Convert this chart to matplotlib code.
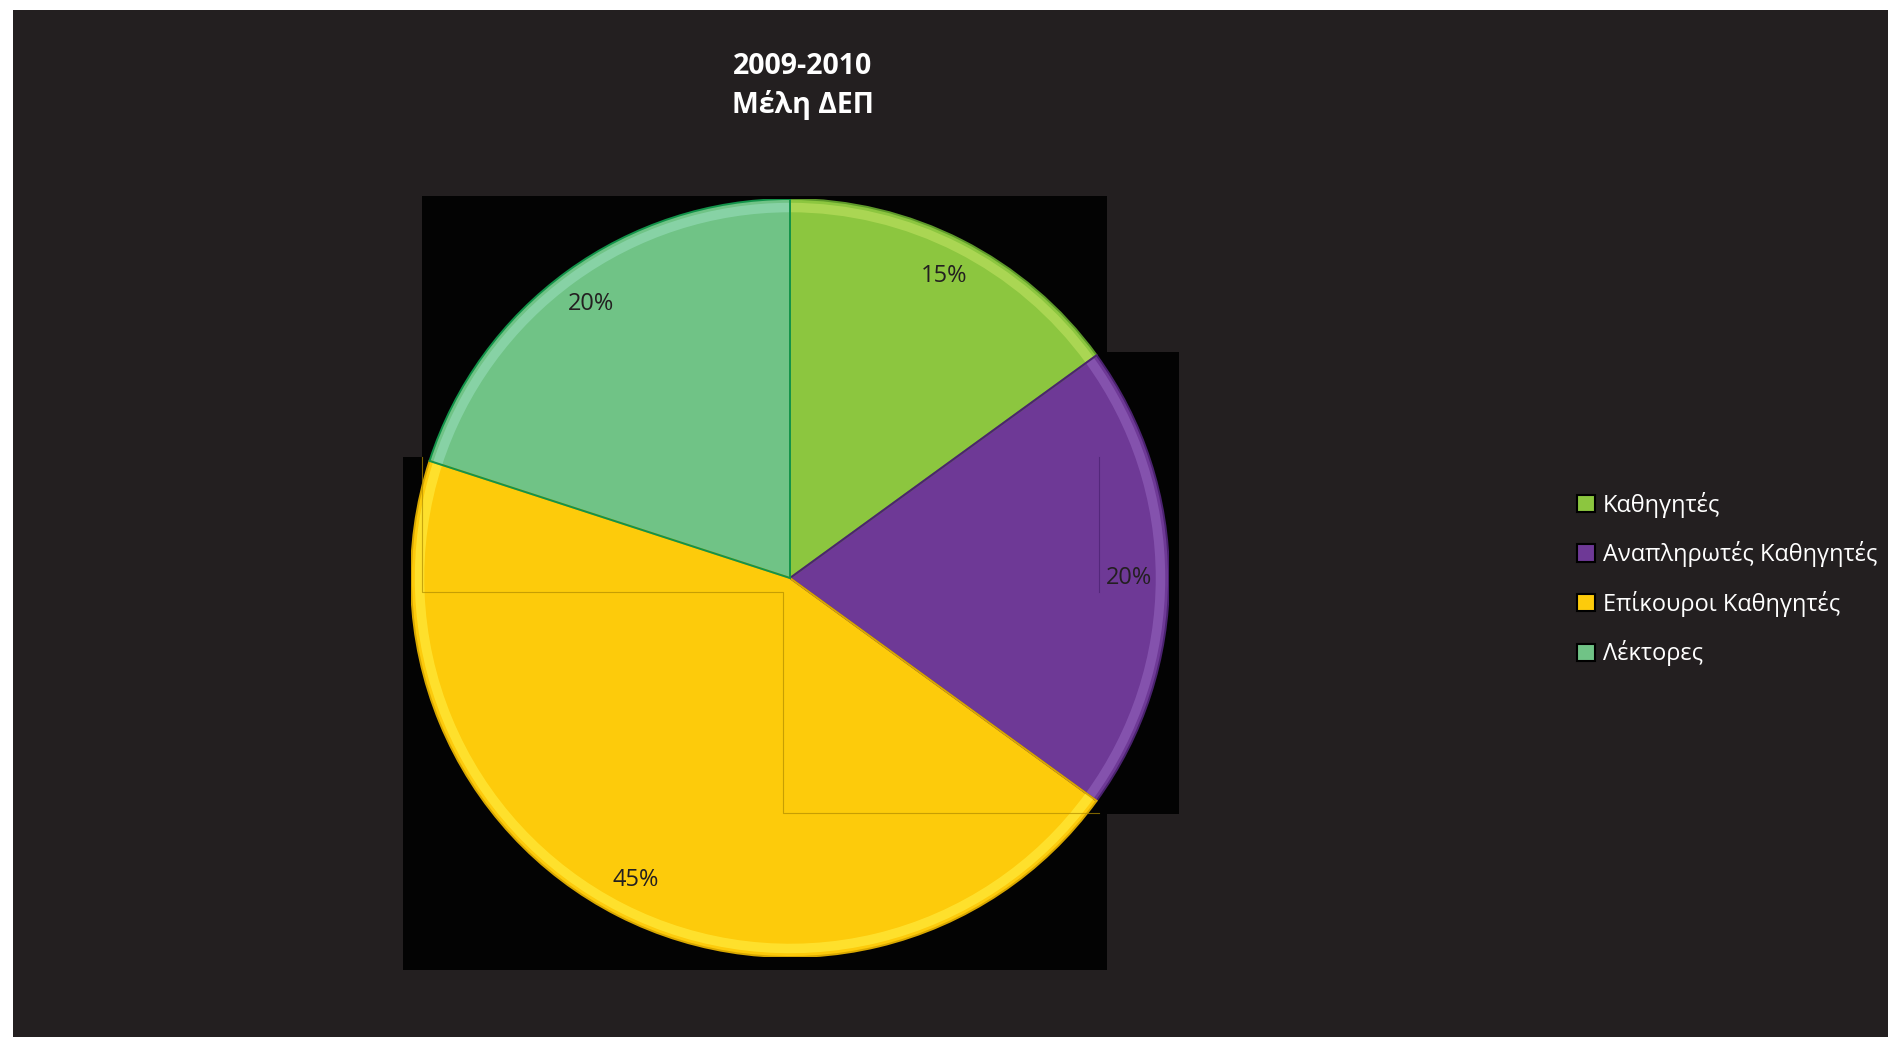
import matplotlib
matplotlib.use("Agg")
import matplotlib.pyplot as plt
from matplotlib.patches import Rectangle, Wedge
import numpy as np

plt.rcParams['font.family'] = ['Open Sans', 'DejaVu Sans']

# ---- data ----
title_lines = ["2009-2010", "Μέλη ΔΕΠ"]
categories = ["Καθηγητές", "Αναπληρωτές Καθηγητές", "Επίκουροι Καθηγητές", "Λέκτορες"]
shares = [15, 20, 45, 20]
colors = ["#8CC63F", "#6E3996", "#FDCB0B", "#70C386"]
rim_colors = ["#B5DC5A", "#8C5BB5", "#FFE838", "#8FD8B0"]
edge_colors = ["#5E9A2A", "#4B2270", "#D9A800", "#13934A"]

W, H = 1888, 1037
DPI = 100
fig = plt.figure(figsize=(W / DPI, H / DPI), dpi=DPI)
fig.patch.set_facecolor("white")

# background axes in pixel coordinates
bg = fig.add_axes([0, 0, 1, 1])
bg.set_xlim(0, W)
bg.set_ylim(H, 0)
bg.axis("off")
bg.add_patch(Rectangle((13, 10), W - 13, H - 10, facecolor="#231F20", edgecolor="none"))
# black plot-area artefacts behind the pie
for (x0, y0, x1, y1) in [(422, 196, 1107, 970), (403, 457, 422, 970), (1107, 352, 1179, 814)]:
    bg.add_patch(Rectangle((x0, y0), x1 - x0, y1 - y0, facecolor="#030303", edgecolor="none"))

bg.text(803, 66, title_lines[0], ha="center", va="center", color="white",
        fontsize=20.5, fontweight="bold")
bg.text(803, 105, title_lines[1], ha="center", va="center", color="white",
        fontsize=20.5, fontweight="bold")

# pie axes
cx, cy, r = 790, 578, 379
pax = fig.add_axes([(cx - r) / W, (H - cy - r) / H, 2 * r / W, 2 * r / H])
pax.axis("off")
wedges, texts, autotexts = pax.pie(
    shares, colors=colors, startangle=90, counterclock=False, radius=1.0,
    autopct=lambda p: f"{p:.0f}%", pctdistance=0.895,
    wedgeprops=dict(linewidth=0),
    textprops=dict(color="#231F20", fontsize=17))
pax.set_xlim(-1, 1)
pax.set_ylim(-1, 1)
pax.set_aspect("auto")

# bevel rim and edges
for w, rc, ec in zip(wedges, rim_colors, edge_colors):
    t1, t2 = w.theta1, w.theta2
    pax.add_patch(Wedge((0, 0), 0.99, t1, t2, width=0.025, facecolor=rc,
                        edgecolor="none", alpha=0.75))
    pax.add_patch(Wedge((0, 0), 1.0, t1, t2, facecolor="none",
                        edgecolor=ec, linewidth=1.4))
for t in autotexts:
    t.set_zorder(10)

# faint outline artefacts over the pie
bg2 = fig.add_axes([0, 0, 1, 1], zorder=5)
bg2.set_xlim(0, W)
bg2.set_ylim(H, 0)
bg2.axis("off")
bg2.plot([422, 422, 783, 783, 1099], [457, 592, 592, 813, 813], color="#B08C00",
         linewidth=0.8, alpha=0.7)
bg2.plot([1099, 1099], [457, 592], color="#4A2070", linewidth=0.8, alpha=0.7)

# legend
handles = [Rectangle((0, 0), 1, 1, facecolor=c, edgecolor="black", linewidth=1.5) for c in colors]
leg = fig.legend(handles, categories, loc="center left",
                 bbox_to_anchor=(1577 / W, 1 - 579 / H), frameon=False,
                 fontsize=17, labelcolor="white", handlelength=0.75, handleheight=0.75,
                 handletextpad=0.35, labelspacing=1.0, borderaxespad=0, borderpad=0)

fig.savefig("out.png", dpi=DPI, facecolor=fig.get_facecolor())
